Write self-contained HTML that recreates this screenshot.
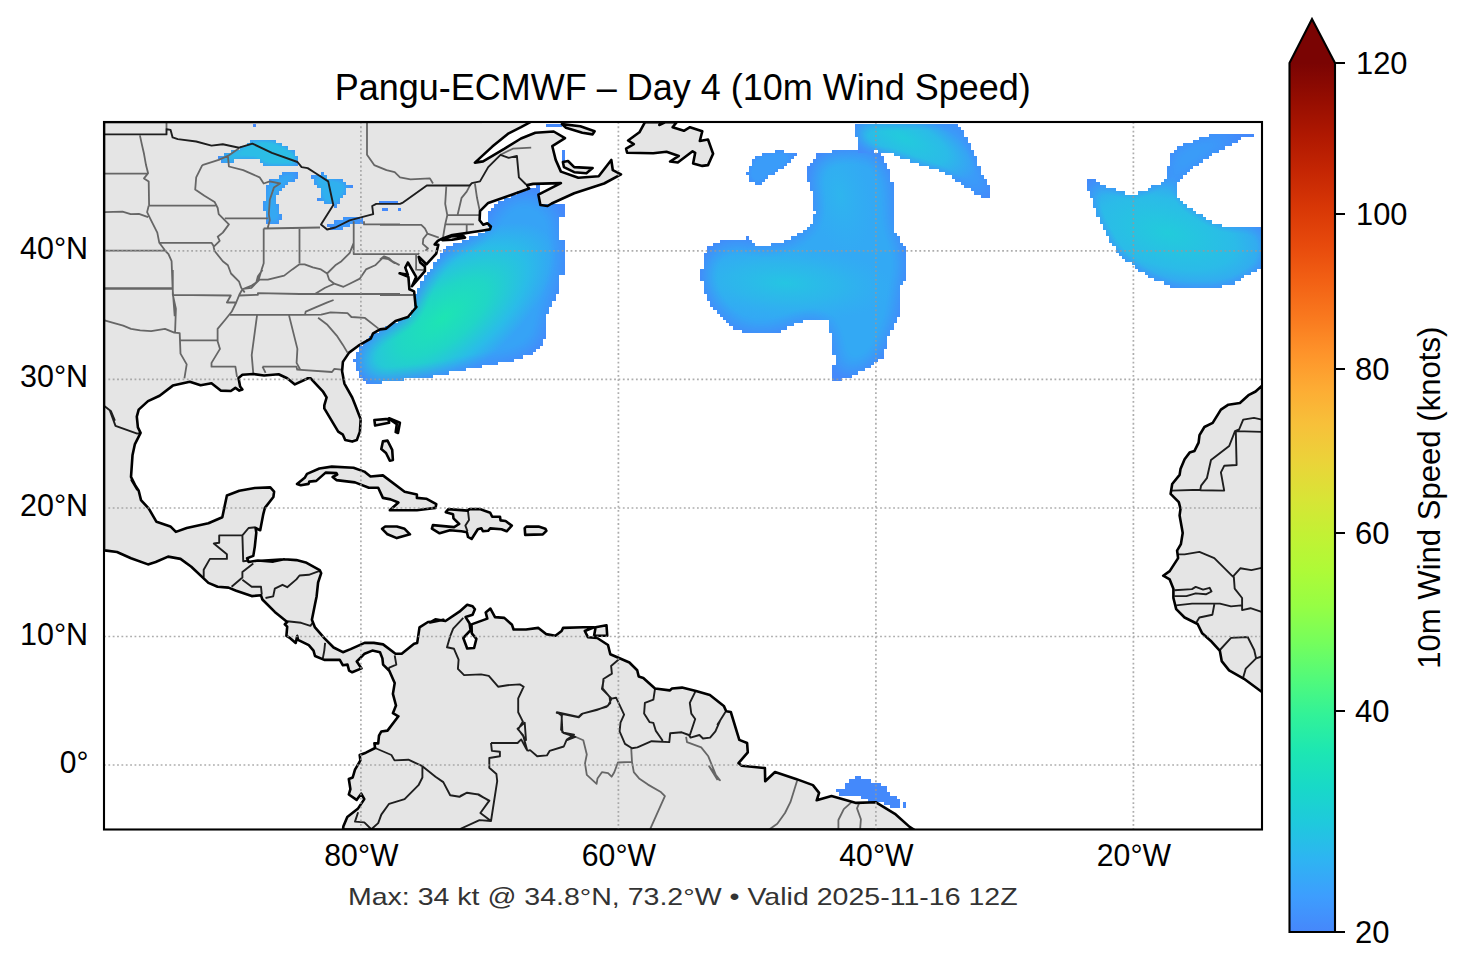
<!DOCTYPE html>
<html><head><meta charset="utf-8"><style>html,body{margin:0;padding:0;background:#fff;width:1466px;height:969px;overflow:hidden;position:relative}</style></head>
<body><svg width="1466" height="969" viewBox="0 0 1466 969" style="position:absolute;left:0;top:0"><defs><linearGradient id="cb" x1="0" y1="63" x2="0" y2="932" gradientUnits="userSpaceOnUse"><stop offset="0.0000" stop-color="#7a0403"/><stop offset="0.0417" stop-color="#950d01"/><stop offset="0.0833" stop-color="#af1801"/><stop offset="0.1250" stop-color="#c52603"/><stop offset="0.1667" stop-color="#d83706"/><stop offset="0.2083" stop-color="#e7490c"/><stop offset="0.2500" stop-color="#f26014"/><stop offset="0.2917" stop-color="#f9781e"/><stop offset="0.3333" stop-color="#fe932a"/><stop offset="0.3750" stop-color="#fdac34"/><stop offset="0.4167" stop-color="#f7c13a"/><stop offset="0.4583" stop-color="#ebd339"/><stop offset="0.5000" stop-color="#d9e436"/><stop offset="0.5417" stop-color="#c3f134"/><stop offset="0.5833" stop-color="#affa37"/><stop offset="0.6250" stop-color="#96fe44"/><stop offset="0.6667" stop-color="#75fe5c"/><stop offset="0.7083" stop-color="#52fa7a"/><stop offset="0.7500" stop-color="#32f298"/><stop offset="0.7917" stop-color="#1de7b2"/><stop offset="0.8333" stop-color="#18d9c8"/><stop offset="0.8750" stop-color="#1fc9dd"/><stop offset="0.9167" stop-color="#2eb4f2"/><stop offset="0.9583" stop-color="#3d9efe"/><stop offset="1.0000" stop-color="#4687fb"/></linearGradient><clipPath id="axclip"><rect x="104" y="122" width="1158" height="707"/></clipPath></defs><g clip-path="url(#axclip)"><path d="M104.0 122.0 L531.2 121.7 L521.0 127.2 L508.7 133.3 L492.3 146.6 L474.9 162.6 L483.1 161.4 L504.6 148.7 L521.0 138.5 L535.3 132.7 L553.7 131.5 L565.0 138.1 L552.3 146.2 L555.7 159.9 L560.9 171.6 L578.3 177.8 L598.7 176.3 L611.3 160.0 L612.8 170.2 L621.0 174.3 L604.1 183.5 L574.2 193.3 L551.7 203.5 L547.6 206.0 L540.4 205.0 L538.4 194.7 L560.9 183.1 L533.2 183.9 L527.1 185.1 L529.1 188.6 L511.8 194.7 L488.2 202.9 L480.0 211.1 L479.6 220.2 L483.2 224.8 L487.3 223.3 L490.9 226.4 L489.9 229.4 L483.2 230.5 L472.9 232.0 L462.6 233.6 L452.2 235.1 L441.9 238.7 L437.8 240.8 L434.7 244.4 L438.3 244.9 L436.2 253.7 L426.4 264.3 L418.7 256.8 L420.2 262.5 L424.9 266.6 L424.9 271.2 L412.0 286.2 L416.1 276.9 L407.9 262.5 L405.3 267.6 L407.9 274.9 L399.6 273.3 L408.4 276.9 L409.4 289.3 L414.1 291.4 L415.6 305.8 L415.6 305.7 L416.4 307.0 L407.9 317.0 L395.5 320.9 L386.2 328.6 L380.0 329.4 L373.1 333.3 L370.7 338.7 L358.4 345.7 L349.1 352.6 L342.9 361.9 L342.1 371.2 L344.4 383.6 L352.2 397.5 L355.3 405.3 L360.7 419.2 L359.9 431.6 L356.8 440.1 L352.2 441.6 L345.2 440.1 L342.9 434.7 L338.2 431.6 L324.3 408.4 L324.3 405.3 L326.6 397.5 L322.8 391.3 L310.4 378.2 L308.0 378.2 L294.9 384.4 L287.2 378.2 L278.6 374.3 L264.1 375.5 L253.3 374.0 L242.4 374.8 L238.5 377.9 L240.1 386.4 L242.4 389.5 L239.3 390.6 L235.4 387.9 L230.8 391.0 L220.7 390.6 L211.5 383.3 L200.6 385.3 L189.8 381.7 L172.8 385.6 L159.6 395.7 L148.0 401.1 L138.7 409.6 L136.8 416.6 L137.9 427.4 L140.6 432.8 L134.8 444.4 L132.5 455.3 L131.0 476.9 L137.2 489.3 L131.7 480.0 L138.7 490.8 L141.0 500.1 L148.8 508.6 L156.5 521.8 L170.4 526.4 L175.9 531.9 L186.7 528.0 L208.4 523.3 L222.3 517.2 L226.9 495.5 L239.3 490.8 L254.8 488.0 L270.3 487.4 L274.1 491.6 L273.4 497.0 L264.9 507.9 L263.3 514.1 L260.2 530.3 L255.6 528.0 L256.3 532.6 L254.8 546.6 L253.3 555.9 L247.1 558.2 L248.6 562.0 L257.9 560.5 L270.3 561.3 L284.2 559.3 L260.8 560.8 L273.2 561.6 L284.1 559.3 L296.4 560.1 L305.7 562.4 L319.7 570.1 L321.2 573.2 L318.1 582.5 L316.6 596.4 L315.0 604.2 L311.9 619.7 L315.0 627.4 L324.3 638.2 L333.6 647.5 L342.9 652.2 L350.6 649.1 L364.6 642.9 L373.8 642.9 L383.1 644.4 L395.5 653.7 L401.7 653.7 L414.1 643.7 L417.2 642.9 L419.5 627.4 L428.0 622.0 L435.8 621.2 L443.5 619.7 L430.0 622.5 L435.4 619.4 L445.5 621.0 L459.4 611.7 L467.2 604.7 L472.6 606.3 L474.9 609.3 L472.6 614.8 L465.6 617.1 L469.5 623.3 L470.6 630.2 L463.3 638.0 L467.2 648.5 L474.1 648.0 L476.4 638.8 L471.8 633.3 L471.5 624.4 L487.3 618.6 L485.7 612.4 L490.4 608.6 L495.0 617.1 L504.3 617.9 L512.0 624.8 L513.6 629.5 L526.0 629.5 L538.4 627.9 L546.1 634.1 L555.4 635.7 L561.6 631.0 L563.1 627.9 L583.3 627.2 L594.1 627.2 L584.8 631.0 L587.9 637.2 L597.2 638.0 L608.0 645.0 L610.3 654.2 L629.4 662.5 L637.2 670.2 L638.7 676.4 L643.3 678.0 L655.0 688.5 L669.7 690.4 L672.0 688.5 L682.0 687.6 L696.0 691.1 L709.9 695.0 L723.8 705.9 L726.2 711.3 L730.8 712.0 L739.3 739.9 L747.1 743.0 L747.8 752.3 L738.5 763.1 L741.7 765.8 L764.9 768.1 L765.2 781.3 L775.0 772.0 L795.9 778.9 L812.9 785.1 L819.1 792.9 L816.7 800.3 L831.5 796.0 L856.2 802.9 L875.6 802.2 L894.9 813.8 L909.6 826.9 L913.5 829.3 L914.0 829.6 L343.0 829.6 L343.4 826.2 L347.3 816.9 L358.1 808.4 L364.3 799.1 L361.2 793.7 L356.6 799.9 L348.8 794.5 L350.4 789.1 L348.8 779.0 L352.7 777.5 L355.0 769.7 L360.4 760.4 L359.7 755.0 L365.9 752.7 L375.1 748.0 L374.4 743.4 L378.2 743.4 L379.0 735.7 L381.3 731.5 L387.5 730.6 L398.4 716.3 L392.9 713.2 L396.0 705.5 L392.9 693.9 L394.7 683.1 L389.3 670.7 L383.1 664.6 L382.4 658.4 L380.0 652.2 L372.3 650.6 L364.6 653.7 L356.8 661.5 L361.5 668.4 L352.2 672.3 L349.1 670.7 L347.5 664.6 L342.9 665.3 L339.8 659.9 L324.3 659.9 L315.0 656.0 L313.5 650.6 L308.8 645.2 L298.0 639.8 L297.2 635.9 L295.7 642.9 L290.2 638.2 L286.4 635.9 L287.2 626.6 L284.8 624.3 L287.2 622.0 L274.8 611.9 L262.4 599.5 L261.0 595.3 L251.7 596.1 L236.2 590.7 L228.5 587.6 L217.6 586.8 L208.4 582.9 L191.3 566.7 L180.5 558.9 L168.1 556.6 L155.7 562.0 L148.0 564.4 L131.0 558.2 L117.0 552.0 L104.6 550.4 L104.0 550.4Z M1262.0 385.7 L1255.6 391.5 L1249.0 394.8 L1239.9 403.0 L1228.4 404.7 L1220.9 409.6 L1212.7 422.9 L1204.4 427.0 L1199.5 435.2 L1198.6 442.7 L1194.5 450.9 L1189.6 452.6 L1184.6 459.2 L1180.5 469.1 L1179.6 474.9 L1172.2 484.0 L1170.6 493.9 L1178.8 502.1 L1180.5 508.8 L1179.6 515.4 L1182.2 530.0 L1182.7 533.0 L1180.9 544.1 L1177.1 550.6 L1178.1 558.1 L1169.7 571.1 L1163.2 575.7 L1169.7 579.4 L1173.4 588.7 L1173.4 598.0 L1176.2 609.1 L1184.6 617.5 L1197.6 624.0 L1202.2 633.3 L1210.6 640.7 L1219.9 650.9 L1221.7 661.1 L1229.1 670.4 L1244.0 678.8 L1261.6 691.8 L1262.0 691.8Z M645.0 122.1 L639.4 132.3 L628.1 140.5 L633.8 144.1 L626.1 148.7 L627.1 152.8 L653.2 153.3 L666.5 151.8 L678.8 155.9 L670.1 161.5 L677.8 162.5 L692.6 151.3 L695.2 152.8 L693.1 163.5 L702.3 165.9 L708.0 165.1 L713.1 153.8 L708.0 139.5 L699.8 141.0 L702.3 131.3 L690.0 127.2 L683.9 130.8 L672.6 127.2 L676.7 122.1 L665.5 122.1 L659.3 125.0 L661.4 122.1Z M561.9 124.1 L580.3 126.2 L594.6 131.3 L592.6 134.4 L582.3 132.7 L566.0 127.8Z M562.9 162.0 L568.0 161.0 L574.2 167.1 L592.6 168.1 L586.4 173.2 L574.2 172.2 L563.9 167.1Z M441.7 239.4 L452.2 235.9 L463.6 236.1 L465.0 237.6 L452.2 239.8 L442.4 240.2Z M297.0 483.9 L304.7 477.8 L307.0 473.9 L319.4 468.5 L331.8 466.6 L353.5 467.7 L364.3 471.6 L370.5 476.5 L382.9 475.4 L404.6 491.7 L416.9 494.5 L416.9 497.9 L426.2 498.7 L436.3 504.1 L435.5 507.9 L416.9 510.3 L389.8 510.3 L398.4 502.5 L390.6 499.4 L382.9 497.9 L378.2 487.8 L368.9 487.8 L355.0 482.4 L336.4 480.1 L332.6 477.0 L337.2 474.7 L336.4 473.1 L325.6 472.6 L316.3 480.9 L309.3 481.6 L308.6 483.9 L300.8 485.2Z M382.1 528.8 L385.2 526.5 L396.8 526.5 L404.6 528.8 L410.0 534.3 L396.8 538.1 L387.5 534.3Z M374.4 420.0 L388.3 418.9 L389.1 422.8 L375.1 425.6Z M389.1 418.2 L399.9 422.8 L398.0 432.9 L395.7 432.1 L396.8 424.3 L391.4 420.5Z M382.9 441.4 L387.5 440.6 L392.2 449.9 L392.9 460.0 L389.8 460.7 L386.0 453.0 L381.3 449.1Z M445.8 512.2 L448.4 509.1 L467.5 510.6 L469.5 509.1 L479.8 509.1 L490.2 512.7 L492.2 516.8 L500.0 516.8 L500.5 520.4 L505.6 521.0 L511.8 525.6 L506.7 531.3 L501.5 529.2 L490.2 528.4 L488.1 530.8 L482.9 531.3 L481.4 528.2 L477.8 529.2 L471.6 539.0 L468.0 536.9 L466.9 532.3 L461.3 531.3 L449.9 530.2 L439.6 533.3 L431.9 528.7 L432.9 525.1 L454.0 527.1 L459.2 524.0 L453.5 518.4 L453.0 514.2Z M524.7 528.2 L526.3 526.6 L538.6 526.6 L545.3 528.7 L546.4 530.8 L542.8 534.4 L525.2 534.9Z M595.6 627.2 L606.5 625.3 L607.2 635.7 L594.1 635.7Z" fill="#e5e5e5" stroke="none"/>
<defs><filter id="fmbig" x="-5%" y="-5%" width="110%" height="110%" color-interpolation-filters="sRGB"><feGaussianBlur in="SourceAlpha" stdDeviation="14" result="b"/><feComponentTransfer in="b" result="c"><feFuncA type="linear" slope="2.0" intercept="-0.7"/></feComponentTransfer><feFlood flood-color="#4489fb" result="e"/><feComposite in="e" in2="SourceAlpha" operator="in" result="e2"/><feComposite in="SourceGraphic" in2="c" operator="in" result="t"/><feMerge><feMergeNode in="e2"/><feMergeNode in="t"/></feMerge></filter><filter id="fmmed" x="-5%" y="-5%" width="110%" height="110%" color-interpolation-filters="sRGB"><feGaussianBlur in="SourceAlpha" stdDeviation="10" result="b"/><feComponentTransfer in="b" result="c"><feFuncA type="linear" slope="1.8" intercept="-0.35"/></feComponentTransfer><feFlood flood-color="#4489fb" result="e"/><feComposite in="e" in2="SourceAlpha" operator="in" result="e2"/><feComposite in="SourceGraphic" in2="c" operator="in" result="t"/><feMerge><feMergeNode in="e2"/><feMergeNode in="t"/></feMerge></filter><filter id="fmsmall" x="-5%" y="-5%" width="110%" height="110%" color-interpolation-filters="sRGB"><feGaussianBlur in="SourceAlpha" stdDeviation="5" result="b"/><feComponentTransfer in="b" result="c"><feFuncA type="linear" slope="1.6" intercept="-0.25"/></feComponentTransfer><feFlood flood-color="#4489fb" result="e"/><feComposite in="e" in2="SourceAlpha" operator="in" result="e2"/><feComposite in="SourceGraphic" in2="c" operator="in" result="t"/><feMerge><feMergeNode in="e2"/><feMergeNode in="t"/></feMerge></filter><radialGradient id="gatl" gradientUnits="userSpaceOnUse" cx="0" cy="0" r="1" gradientTransform="translate(443 318) rotate(-38) scale(135 60)"><stop offset="0" stop-color="#1de5b3" stop-opacity="1"/><stop offset="0.4" stop-color="#20d6c6" stop-opacity="1"/><stop offset="0.75" stop-color="#2abce8" stop-opacity="1"/><stop offset="1" stop-color="#36a3f6" stop-opacity="1"/></radialGradient><radialGradient id="gmid1" gradientUnits="userSpaceOnUse" cx="0" cy="0" r="1" gradientTransform="translate(785 283) rotate(3) scale(110 38)"><stop offset="0" stop-color="#25c5e2" stop-opacity="1"/><stop offset="0.5" stop-color="#2bbbe8" stop-opacity="0.7"/><stop offset="1" stop-color="#2fb3ef" stop-opacity="0"/></radialGradient><radialGradient id="gmid2" gradientUnits="userSpaceOnUse" cx="0" cy="0" r="1" gradientTransform="translate(840 195) rotate(80) scale(60 30)"><stop offset="0" stop-color="#2db8ec" stop-opacity="0.8"/><stop offset="1" stop-color="#2fb3ef" stop-opacity="0"/></radialGradient><radialGradient id="gtop" gradientUnits="userSpaceOnUse" cx="0" cy="0" r="1" gradientTransform="translate(903 138) rotate(25) scale(80 30)"><stop offset="0" stop-color="#22cbdc" stop-opacity="1"/><stop offset="0.6" stop-color="#2bbbe8" stop-opacity="1"/><stop offset="1" stop-color="#3a9cf8" stop-opacity="1"/></radialGradient><radialGradient id="gright" gradientUnits="userSpaceOnUse" cx="0" cy="0" r="1" gradientTransform="translate(1168 233) rotate(15) scale(115 55)"><stop offset="0" stop-color="#22cbdb" stop-opacity="1"/><stop offset="0.6" stop-color="#2bbbe8" stop-opacity="1"/><stop offset="1" stop-color="#3a9cf8" stop-opacity="1"/></radialGradient></defs>
<g filter="url(#fmbig)"><path d="M536 185H540V188H536ZM527 188H540V191H527ZM517 191H540V195H517ZM511 195H540V198H511ZM504 198H540V201H504ZM498 201H540V204H498ZM494 204H565V208H494ZM491 208H565V211H491ZM488 211H565V214H488ZM488 214H565V217H488ZM488 217H559V220H488ZM488 220H559V224H488ZM488 224H559V227H488ZM491 227H559V230H491ZM485 230H559V233H485ZM478 233H559V236H478ZM469 236H559V240H469ZM462 240H565V243H462ZM453 243H565V246H453ZM446 246H565V249H446ZM443 249H565V253H443ZM440 253H565V256H440ZM440 256H565V259H440ZM437 259H565V262H437ZM433 262H565V265H433ZM433 265H565V269H433ZM430 269H565V272H430ZM427 272H565V275H427ZM424 275H559V278H424ZM424 278H559V281H424ZM420 281H559V285H420ZM420 285H559V288H420ZM417 288H559V291H417ZM417 291H559V294H417ZM414 294H556V297H414ZM414 297H556V301H414ZM414 301H552V304H414ZM414 304H552V307H414ZM414 307H549V310H414ZM411 310H549V314H411ZM411 314H546V317H411ZM404 317H546V320H404ZM398 320H546V323H398ZM391 323H546V326H391ZM385 326H546V330H385ZM379 330H546V333H379ZM372 333H546V336H372ZM369 336H546V339H369ZM366 339H543V342H366ZM363 342H543V346H363ZM359 346H540V349H359ZM359 349H536V352H359ZM356 352H533V355H356ZM356 355H523V359H356ZM353 359H514V362H353ZM356 362H498V365H356ZM356 365H482V368H356ZM356 368H466V371H356ZM359 371H449V375H359ZM359 375H433V378H359ZM363 378H404V381H363ZM366 381H382V384H366Z" fill="url(#gatl)" shape-rendering="crispEdges"/></g>
<g filter="url(#fmbig)"><path d="M832 150H874V153H832ZM816 153H881V156H816ZM816 156H884V159H816ZM813 159H884V163H813ZM810 163H887V166H810ZM807 166H887V169H807ZM807 169H890V172H807ZM807 172H890V175H807ZM807 175H890V179H807ZM807 179H890V182H807ZM810 182H894V185H810ZM810 185H894V188H810ZM810 188H894V191H810ZM813 191H894V195H813ZM813 195H894V198H813ZM813 198H894V201H813ZM813 201H894V204H813ZM813 204H894V208H813ZM813 208H894V211H813ZM816 211H894V214H816ZM813 214H894V217H813ZM813 217H894V220H813ZM813 220H894V224H813ZM810 224H894V227H810ZM807 227H894V230H807ZM803 230H894V233H803ZM797 233H897V236H797ZM746 236H749V240H746ZM791 236H900V240H791ZM720 240H752V243H720ZM784 240H900V243H784ZM713 243H755V246H713ZM771 243H903V246H771ZM707 246H906V249H707ZM707 249H906V253H707ZM704 253H906V256H704ZM704 256H906V259H704ZM704 259H906V262H704ZM704 262H906V265H704ZM704 265H906V269H704ZM700 269H906V272H700ZM700 272H906V275H700ZM700 275H906V278H700ZM700 278H906V281H700ZM704 281H903V285H704ZM704 285H900V288H704ZM704 288H900V291H704ZM704 291H900V294H704ZM707 294H900V297H707ZM707 297H900V301H707ZM710 301H900V304H710ZM710 304H900V307H710ZM713 307H900V310H713ZM717 310H900V314H717ZM720 314H900V317H720ZM723 317H897V320H723ZM726 320H803V323H726ZM829 320H897V323H829ZM729 323H794V326H729ZM829 323H894V326H829ZM733 326H787V330H733ZM829 326H894V330H829ZM742 330H781V333H742ZM829 330H890V333H829ZM832 333H890V336H832ZM832 336H887V339H832ZM832 339H887V342H832ZM832 342H887V346H832ZM832 346H887V349H832ZM832 349H884V352H832ZM832 352H884V355H832ZM836 355H884V359H836ZM836 359H878V362H836ZM836 362H874V365H836ZM832 365H871V368H832ZM832 368H865V371H832ZM832 371H858V375H832ZM832 375H852V378H832ZM832 378H842V381H832Z" fill="#33a9f4" shape-rendering="crispEdges"/><path d="M832 150H874V153H832ZM816 153H881V156H816ZM816 156H884V159H816ZM813 159H884V163H813ZM810 163H887V166H810ZM807 166H887V169H807ZM807 169H890V172H807ZM807 172H890V175H807ZM807 175H890V179H807ZM807 179H890V182H807ZM810 182H894V185H810ZM810 185H894V188H810ZM810 188H894V191H810ZM813 191H894V195H813ZM813 195H894V198H813ZM813 198H894V201H813ZM813 201H894V204H813ZM813 204H894V208H813ZM813 208H894V211H813ZM816 211H894V214H816ZM813 214H894V217H813ZM813 217H894V220H813ZM813 220H894V224H813ZM810 224H894V227H810ZM807 227H894V230H807ZM803 230H894V233H803ZM797 233H897V236H797ZM746 236H749V240H746ZM791 236H900V240H791ZM720 240H752V243H720ZM784 240H900V243H784ZM713 243H755V246H713ZM771 243H903V246H771ZM707 246H906V249H707ZM707 249H906V253H707ZM704 253H906V256H704ZM704 256H906V259H704ZM704 259H906V262H704ZM704 262H906V265H704ZM704 265H906V269H704ZM700 269H906V272H700ZM700 272H906V275H700ZM700 275H906V278H700ZM700 278H906V281H700ZM704 281H903V285H704ZM704 285H900V288H704ZM704 288H900V291H704ZM704 291H900V294H704ZM707 294H900V297H707ZM707 297H900V301H707ZM710 301H900V304H710ZM710 304H900V307H710ZM713 307H900V310H713ZM717 310H900V314H717ZM720 314H900V317H720ZM723 317H897V320H723ZM726 320H803V323H726ZM829 320H897V323H829ZM729 323H794V326H729ZM829 323H894V326H829ZM733 326H787V330H733ZM829 326H894V330H829ZM742 330H781V333H742ZM829 330H890V333H829ZM832 333H890V336H832ZM832 336H887V339H832ZM832 339H887V342H832ZM832 342H887V346H832ZM832 346H887V349H832ZM832 349H884V352H832ZM832 352H884V355H832ZM836 355H884V359H836ZM836 359H878V362H836ZM836 362H874V365H836ZM832 365H871V368H832ZM832 368H865V371H832ZM832 371H858V375H832ZM832 375H852V378H832ZM832 378H842V381H832Z" fill="url(#gmid1)" shape-rendering="crispEdges"/><path d="M832 150H874V153H832ZM816 153H881V156H816ZM816 156H884V159H816ZM813 159H884V163H813ZM810 163H887V166H810ZM807 166H887V169H807ZM807 169H890V172H807ZM807 172H890V175H807ZM807 175H890V179H807ZM807 179H890V182H807ZM810 182H894V185H810ZM810 185H894V188H810ZM810 188H894V191H810ZM813 191H894V195H813ZM813 195H894V198H813ZM813 198H894V201H813ZM813 201H894V204H813ZM813 204H894V208H813ZM813 208H894V211H813ZM816 211H894V214H816ZM813 214H894V217H813ZM813 217H894V220H813ZM813 220H894V224H813ZM810 224H894V227H810ZM807 227H894V230H807ZM803 230H894V233H803ZM797 233H897V236H797ZM746 236H749V240H746ZM791 236H900V240H791ZM720 240H752V243H720ZM784 240H900V243H784ZM713 243H755V246H713ZM771 243H903V246H771ZM707 246H906V249H707ZM707 249H906V253H707ZM704 253H906V256H704ZM704 256H906V259H704ZM704 259H906V262H704ZM704 262H906V265H704ZM704 265H906V269H704ZM700 269H906V272H700ZM700 272H906V275H700ZM700 275H906V278H700ZM700 278H906V281H700ZM704 281H903V285H704ZM704 285H900V288H704ZM704 288H900V291H704ZM704 291H900V294H704ZM707 294H900V297H707ZM707 297H900V301H707ZM710 301H900V304H710ZM710 304H900V307H710ZM713 307H900V310H713ZM717 310H900V314H717ZM720 314H900V317H720ZM723 317H897V320H723ZM726 320H803V323H726ZM829 320H897V323H829ZM729 323H794V326H729ZM829 323H894V326H829ZM733 326H787V330H733ZM829 326H894V330H829ZM742 330H781V333H742ZM829 330H890V333H829ZM832 333H890V336H832ZM832 336H887V339H832ZM832 339H887V342H832ZM832 342H887V346H832ZM832 346H887V349H832ZM832 349H884V352H832ZM832 352H884V355H832ZM836 355H884V359H836ZM836 359H878V362H836ZM836 362H874V365H836ZM832 365H871V368H832ZM832 368H865V371H832ZM832 371H858V375H832ZM832 375H852V378H832ZM832 378H842V381H832Z" fill="url(#gmid2)" shape-rendering="crispEdges"/></g>
<g filter="url(#fmsmall)"><path d="M775 150H784V153H775ZM762 153H797V156H762ZM755 156H794V159H755ZM752 159H791V163H752ZM752 163H787V166H752ZM749 166H784V169H749ZM749 169H778V172H749ZM746 172H775V175H746ZM749 175H768V179H749ZM749 179H765V182H749ZM755 182H762V185H755Z" fill="#3a9cf9" shape-rendering="crispEdges"/></g>
<g filter="url(#fmmed)"><path d="M855 124H958V127H855ZM855 127H961V130H855ZM855 130H964V134H855ZM855 134H964V137H855ZM858 137H968V140H858ZM858 140H968V143H858ZM858 143H971V146H858ZM858 146H971V150H858ZM858 150H871V153H858ZM878 150H974V153H878ZM894 153H974V156H894ZM900 156H977V159H900ZM910 159H977V163H910ZM919 163H977V166H919ZM929 166H981V169H929ZM939 169H981V172H939ZM945 172H981V175H945ZM952 175H984V179H952ZM955 179H987V182H955ZM961 182H987V185H961ZM964 185H990V188H964ZM971 188H990V191H971ZM974 191H990V195H974ZM981 195H990V198H981Z" fill="url(#gtop)" shape-rendering="crispEdges"/></g>
<g filter="url(#fmmed)"><path d="M1209 134H1254V137H1209ZM1199 137H1241V140H1199ZM1193 140H1238V143H1193ZM1183 143H1232V146H1183ZM1177 146H1225V150H1177ZM1174 150H1219V153H1174ZM1170 153H1212V156H1170ZM1170 156H1209V159H1170ZM1170 159H1203V163H1170ZM1170 163H1199V166H1170ZM1167 166H1193V169H1167ZM1167 169H1190V172H1167ZM1167 172H1187V175H1167ZM1167 175H1183V179H1167ZM1087 179H1096V182H1087ZM1164 179H1180V182H1164ZM1087 182H1100V185H1087ZM1161 182H1177V185H1161ZM1087 185H1106V188H1087ZM1151 185H1177V188H1151ZM1087 188H1116V191H1087ZM1148 188H1177V191H1148ZM1090 191H1125V195H1090ZM1138 191H1177V195H1138ZM1090 195H1177V198H1090ZM1093 198H1180V201H1093ZM1093 201H1183V204H1093ZM1093 204H1187V208H1093ZM1096 208H1193V211H1096ZM1096 211H1196V214H1096ZM1096 214H1203V217H1096ZM1100 217H1206V220H1100ZM1100 220H1212V224H1100ZM1103 224H1222V227H1103ZM1103 227H1264V230H1103ZM1106 230H1264V233H1106ZM1106 233H1264V236H1106ZM1109 236H1264V240H1109ZM1109 240H1264V243H1109ZM1112 243H1264V246H1112ZM1116 246H1264V249H1116ZM1116 249H1264V253H1116ZM1119 253H1264V256H1119ZM1122 256H1264V259H1122ZM1125 259H1264V262H1125ZM1132 262H1264V265H1132ZM1135 265H1261V269H1135ZM1138 269H1257V272H1138ZM1145 272H1251V275H1145ZM1148 275H1244V278H1148ZM1154 278H1241V281H1154ZM1164 281H1235V285H1164ZM1170 285H1222V288H1170Z" fill="url(#gright)" shape-rendering="crispEdges"/></g>
<g filter="url(#fmsmall)"><path d="M250 140H276V143H250ZM247 143H282V146H247ZM240 146H288V150H240ZM231 150H295V153H231ZM224 153H295V156H224ZM218 156H298V159H218ZM221 159H234V163H221ZM260 159H298V163H260ZM263 163H298V166H263Z" fill="#2cbde6" shape-rendering="crispEdges"/></g>
<g filter="url(#fmsmall)"><path d="M282 172H298V175H282ZM279 175H298V179H279ZM269 179H295V182H269ZM269 182H288V185H269ZM266 185H285V188H266ZM266 188H282V191H266ZM266 191H279V195H266ZM266 195H276V198H266ZM266 198H276V201H266ZM263 201H276V204H263ZM263 204H279V208H263ZM263 208H279V211H263ZM266 211H279V214H266ZM266 214H282V217H266ZM266 217H282V220H266ZM266 220H279V224H266Z" fill="#35a8f2" shape-rendering="crispEdges"/></g>
<g filter="url(#fmsmall)"><path d="M321 172H324V175H321ZM311 175H327V179H311ZM314 179H343V182H314ZM314 182H346V185H314ZM317 185H353V188H317ZM321 188H346V191H321ZM321 191H346V195H321ZM321 195H343V198H321ZM317 198H340V201H317ZM324 201H340V204H324ZM334 204H337V208H334Z" fill="#30b0ee" shape-rendering="crispEdges"/></g>
<g filter="url(#fmsmall)"><path d="M343 217H363V220H343ZM334 220H363V224H334ZM327 224H350V227H327ZM330 227H343V230H330Z" fill="#3a9ef8" shape-rendering="crispEdges"/></g>
<path d="M379 201H398V204H379ZM382 208H388V211H382ZM398 208H401V211H398Z" fill="#4489fb" shape-rendering="crispEdges"/>
<path d="M253 124H256V127H253Z" fill="#4489fb" shape-rendering="crispEdges"/>
<path d="M546 124H562V127H546Z" fill="#4489fb" shape-rendering="crispEdges"/>
<path d="M562 150H565V153H562ZM562 153H565V156H562ZM562 156H565V159H562ZM562 159H565V163H562Z" fill="#4489fb" shape-rendering="crispEdges"/>
<path d="M855 776H861V779H855ZM849 779H871V783H849ZM845 783H881V786H845ZM845 786H887V789H845ZM836 789H887V792H836ZM839 792H890V796H839ZM861 796H897V799H861ZM868 799H900V802H868ZM884 802H900V805H884ZM890 805H900V808H890Z" fill="#4489fb" shape-rendering="crispEdges"/>
<path d="M903 802H906V805H903ZM903 805H906V808H903Z" fill="#4489fb" shape-rendering="crispEdges"/>
<path d="M166.5 122.0 L166.5 129.3 M139.9 135.4 L141.9 144.6 L144.0 153.8 L146.0 165.1 L148.1 173.2 L144.0 178.4 L148.7 181.4 L149.1 205.6 M104.5 173.7 L147.5 173.7 M104.5 212.1 L122.5 211.7 L130.7 214.2 L138.9 213.8 L148.1 217.2 M148.7 205.6 L147.1 212.1 L150.1 218.3 L157.3 232.6 L159.3 242.8 L165.5 251.0 L168.5 254.1 L171.6 261.2 L172.6 288.2 L174.7 316.1 M104.5 250.6 L165.5 250.6 M104.5 288.2 L172.6 288.2 M149.1 205.6 L215.6 205.6 M159.3 242.8 L211.5 242.8 L213.6 245.9 M202.3 165.1 L196.2 177.3 L195.2 189.6 L204.4 195.8 L214.6 201.9 L217.7 208.0 L218.7 214.2 L228.9 224.4 L222.8 232.6 L217.7 236.7 L219.7 240.8 L213.6 246.9 L214.6 251.0 L222.8 261.2 L227.9 265.3 L231.0 273.5 L239.1 281.7 L241.2 287.8 L244.3 291.9 L242.4 289.3 L239.3 294.8 L236.2 302.5 L231.6 311.8 L225.4 319.5 L217.6 328.8 L217.6 341.2 L220.0 348.9 L211.5 362.9 L211.5 366.7 L235.4 366.7 L237.0 376.8 M202.3 165.1 L218.7 159.9 L227.9 155.9 L239.1 148.3 M227.9 155.9 L228.9 166.5 L243.2 170.2 L259.6 177.3 L263.7 183.5 L269.8 181.4 L280.1 183.5 L273.9 187.6 L269.8 199.8 L268.8 214.2 L269.8 220.3 L267.8 227.5 M224.8 218.3 L267.8 218.3 M263.7 228.5 L263.7 263.3 L261.7 269.4 L258.6 279.7 M263.7 228.5 L320.0 227.5 M299.5 228.5 L299.5 263.3 M243.2 288.9 L251.4 287.8 L255.5 283.7 L259.6 279.7 L267.8 279.7 L276.0 277.6 L284.2 275.6 L292.3 269.4 L299.5 264.3 L304.6 264.3 L312.8 267.4 L321.0 269.4 L327.1 273.5 L335.3 265.3 L341.5 261.2 L349.6 253.1 L353.7 242.8 M353.7 221.3 L353.7 254.1 L400.0 254.1 M327.1 273.5 L329.2 279.7 L334.3 283.7 L343.5 286.8 L351.7 282.7 L359.9 278.6 L366.0 269.4 L375.2 265.3 L382.4 258.2 L388.5 259.2 L394.7 263.3 M314.9 294.0 L325.1 287.8 L334.3 283.7 M239.3 295.5 L257.9 294.8 L257.9 293.2 L300.0 294.0 L400.0 294.0 M364.0 221.3 L364.0 224.4 L400.0 224.4 M367.0 123.1 L367.0 154.8 L374.2 165.1 L386.5 170.2 L394.7 172.2 L400.0 177.3 L410.5 179.4 L429.9 178.4 L433.0 183.5 M104.6 288.9 L172.8 288.9 M172.8 270.0 L172.8 294.8 L175.9 308.7 L175.1 331.9 M172.8 294.8 L230.8 295.5 L226.9 302.5 L236.2 302.5 M104.6 320.3 L112.4 322.6 L123.2 325.7 L131.0 328.8 L140.2 330.4 L151.1 331.1 L165.0 328.8 L174.3 332.7 L179.7 333.2 L180.5 353.6 L186.7 364.4 L184.4 378.4 M180.5 340.4 L216.9 340.4 M230.0 314.9 L300.0 314.9 L321.2 314.7 L330.5 312.4 L347.5 313.2 L351.4 317.0 L364.6 317.8 L378.5 328.6 M257.1 314.9 L251.7 355.1 L253.3 373.7 M288.9 314.9 L297.4 348.9 L296.6 362.9 L300.0 369.1 L297.2 369.7 M262.5 366.7 L295.8 366.7 L296.4 366.6 L297.2 369.7 L332.0 372.0 L334.4 368.9 L341.3 369.7 M262.5 366.7 L265.6 372.9 M242.4 289.3 L251.7 285.5 L256.3 282.4 L257.9 276.2 L262.5 270.0 M318.1 317.8 L327.4 324.8 L336.7 335.6 L342.9 344.9 L347.5 352.6 M305.0 314.7 L305.7 311.6 L315.0 307.7 L327.4 302.3 L333.6 300.0 M446.3 186.5 L445.2 203.9 L447.3 215.2 L445.2 224.4 L442.8 238.7 M470.8 183.9 L466.7 191.7 L461.6 197.8 L457.5 215.2 M474.9 183.5 L477.0 197.8 L480.0 212.1 M446.3 215.2 L480.0 215.2 M445.2 224.4 L473.9 224.4 M466.7 224.4 L466.7 233.6 M500.5 154.8 L512.8 148.7 L531.2 147.7 M380.0 224.8 L421.3 224.8 L424.9 228.4 L427.5 233.6 L438.8 237.7 M427.5 233.6 L423.3 238.7 L422.8 243.9 L428.0 248.5 L425.4 250.6 M380.0 254.2 L418.2 254.2 L419.2 253.2 M416.1 254.2 L416.1 269.7 L424.4 270.2 M380.0 259.4 L384.1 256.3 L389.3 258.3 L392.4 261.4 L399.6 265.1 M380.0 295.0 L413.0 295.0 M575.3 736.8 L583.3 740.3 L586.8 754.5 L585.0 763.4 L586.8 774.9 L596.6 783.8 L597.5 778.4 L601.9 772.2 L608.1 773.1 L611.6 776.7 L614.3 772.2 L617.9 762.5 L632.0 761.9 L631.2 748.3 M632.0 761.9 L633.8 772.2 L639.1 778.4 L648.0 784.6 L660.4 791.7 L664.9 796.2 L649.8 829.9 M686.1 736.8 L687.0 742.1 L701.2 747.4 L708.3 756.3 L717.2 778.4 L720.0 780.2 L709.1 766.2 L717.6 780.0 M797.4 779.7 L794.3 789.8 L790.4 802.2 L785.0 813.0 L777.3 823.8 L768.8 829.7 M851.6 802.2 L843.8 809.1 L838.4 820.0 L838.4 829.7 M859.3 802.9 L857.0 808.4 L860.9 819.2 L860.1 829.7" fill="none" stroke="#666666" stroke-width="1.8" stroke-linejoin="round"/>
<path d="M104.5 134.4 L166.5 134.4 L166.5 129.3 L170.6 129.9 L172.6 137.4 L177.8 139.1 L196.2 141.5 L211.5 145.6 L222.8 144.2 L239.1 147.7 L252.4 143.6 L271.9 152.8 L297.5 162.0 L301.6 167.1 L307.7 168.1 L314.9 172.8 L328.2 181.4 L333.3 205.0 L321.0 224.4 L327.1 229.5 L335.3 227.5 L349.6 220.3 L373.2 214.2 L372.2 206.0 L376.2 203.9 L400.0 203.9 L402.3 202.9 L426.8 185.5 L469.8 185.5 L471.8 183.1 L480.0 181.4 L488.2 167.1 L500.5 154.8 L508.7 157.9 L516.9 155.9 L518.9 177.3 L526.1 184.5 M104.6 406.2 L110.8 410.9 L114.7 420.0 L110.1 411.1 L115.5 425.9 L137.2 433.6 L140.6 432.8 M203.7 577.5 L203.7 569.8 L209.9 558.9 L226.9 558.9 L226.9 554.3 L213.8 543.5 L219.2 542.7 L219.2 535.4 L242.4 535.4 L243.2 561.3 L247.8 560.8 M242.4 535.4 L248.6 528.0 L255.6 527.2 M253.3 563.6 L242.4 572.1 L242.4 577.5 L231.6 586.8 M242.4 579.8 L251.7 586.8 L261.0 586.8 L261.8 594.6 M319.7 570.9 L308.8 574.8 L299.5 575.5 L296.4 579.4 L287.2 587.2 L282.5 584.8 L274.8 588.7 L273.2 596.4 L265.5 598.0 M287.2 621.2 L301.1 622.8 L310.4 625.9 L312.7 622.8 M325.1 642.9 L324.3 650.6 L322.8 658.4 M394.7 655.3 L396.3 664.6 L389.3 667.6 L388.5 670.7 M468.0 511.1 L469.0 519.9 L465.4 525.6 L467.5 531.3 M463.3 617.9 L453.2 628.7 L450.1 636.4 L447.0 647.3 L454.0 648.8 L458.6 659.7 L457.9 668.9 L464.1 675.1 L481.1 674.4 L488.8 675.9 L498.1 686.7 L507.4 685.2 L519.8 684.4 L523.7 686.7 L518.2 698.4 L518.2 712.3 L522.9 721.6 L518.2 729.3 L526.0 740.0 L524.7 722.6 L517.6 728.8 L523.0 735.0 L527.4 750.9 M527.4 750.9 L530.1 750.1 L537.2 756.3 L546.9 755.4 L549.6 750.9 L563.8 746.5 L566.4 740.3 L575.3 736.8 L563.8 733.2 L561.1 729.7 L562.0 713.7 L556.7 712.8 L578.8 717.2 L582.4 713.7 L596.6 710.2 L608.1 705.7 L611.6 698.6 L616.1 697.7 L618.7 703.1 L624.1 714.6 L620.5 722.6 L619.6 731.4 L625.0 743.9 L632.0 748.3 L637.4 747.4 L651.6 741.2 L669.3 742.1 L670.2 733.2 L681.7 732.3 L688.8 735.0 L690.6 737.6 L699.4 735.0 L703.0 738.5 L710.1 737.6 L715.4 731.4 L720.0 720.8 L717.6 724.4 L725.4 712.0 M620.4 658.1 L611.1 665.9 L611.9 673.6 L603.4 679.0 L602.6 688.3 L609.6 696.8 L610.3 703.0 L606.5 706.9 L581.7 713.8 L578.6 716.9 L556.9 712.3 L561.6 715.4 L562.4 732.4 L574.0 734.7 L566.2 740.0 M611.6 698.6 L601.9 688.9 L603.7 680.0 M655.0 688.8 L653.4 699.7 L644.9 702.8 L644.1 713.6 L649.5 722.1 L653.4 722.9 L655.7 730.6 L662.7 740.7 M695.2 691.9 L689.8 702.8 L691.3 713.6 L695.2 719.0 L689.8 735.3 M375.1 748.0 L391.4 755.0 L394.5 760.4 L408.4 759.7 L422.4 766.2 L435.5 776.7 L443.3 782.1 L450.2 795.3 L459.5 796.8 L466.5 792.9 L478.9 794.5 L490.0 801.5 M422.4 766.2 L422.4 777.5 L418.5 785.2 L404.6 799.1 L389.1 803.8 L381.3 814.6 L378.2 823.1 L371.3 829.3 M358.1 812.3 L355.0 821.6 L364.3 822.4 L371.3 829.3 M491.0 743.0 L517.6 743.0 L521.2 739.4 L526.5 749.2 M491.0 743.0 L491.9 750.9 L499.9 751.8 L499.9 756.3 L489.3 758.0 L489.3 767.8 L496.4 774.0 L497.2 781.1 L491.0 821.0 L479.5 820.1 L460.0 829.0 M460.0 796.2 L467.1 792.6 L477.7 794.4 L489.3 800.6 L480.4 813.0 L491.0 821.0 M1261.9 419.6 L1254.0 417.9 L1243.2 419.6 L1239.1 429.5 L1235.0 431.1 L1229.2 446.0 L1211.0 460.0 L1206.9 478.2 L1201.1 485.6 L1200.3 489.8 L1171.4 490.6 M1200.3 490.3 L1224.2 490.6 L1220.9 472.4 L1224.2 465.8 L1236.6 465.0 L1235.8 431.1 L1261.9 431.9 M1178.1 554.4 L1184.6 554.4 L1199.4 551.9 L1214.3 558.1 L1232.9 576.6 L1240.3 568.3 L1251.4 570.1 L1261.6 567.9 M1233.8 576.6 L1234.7 588.7 L1242.1 598.0 L1242.1 610.1 L1250.5 608.2 L1261.6 611.9 M1174.4 590.2 L1192.0 589.1 L1195.7 586.9 L1203.1 589.6 L1209.6 587.8 L1211.5 591.5 L1205.9 594.3 L1195.7 593.4 L1186.4 596.1 L1174.4 596.1 M1176.2 605.4 L1192.0 603.6 L1219.9 603.6 L1231.0 606.4 L1241.2 605.4 M1214.3 604.5 L1212.4 614.7 L1199.4 617.5 L1196.6 622.1 M1219.9 650.0 L1231.0 637.9 L1247.7 637.0 L1254.2 650.0 L1256.1 658.3 L1261.6 656.5 M1256.1 658.3 L1245.8 668.6 L1243.1 677.8" fill="none" stroke="#1e1e1e" stroke-width="1.9" stroke-linejoin="round"/>
<path d="M104.0 122.0 L531.2 121.7 L521.0 127.2 L508.7 133.3 L492.3 146.6 L474.9 162.6 L483.1 161.4 L504.6 148.7 L521.0 138.5 L535.3 132.7 L553.7 131.5 L565.0 138.1 L552.3 146.2 L555.7 159.9 L560.9 171.6 L578.3 177.8 L598.7 176.3 L611.3 160.0 L612.8 170.2 L621.0 174.3 L604.1 183.5 L574.2 193.3 L551.7 203.5 L547.6 206.0 L540.4 205.0 L538.4 194.7 L560.9 183.1 L533.2 183.9 L527.1 185.1 L529.1 188.6 L511.8 194.7 L488.2 202.9 L480.0 211.1 L479.6 220.2 L483.2 224.8 L487.3 223.3 L490.9 226.4 L489.9 229.4 L483.2 230.5 L472.9 232.0 L462.6 233.6 L452.2 235.1 L441.9 238.7 L437.8 240.8 L434.7 244.4 L438.3 244.9 L436.2 253.7 L426.4 264.3 L418.7 256.8 L420.2 262.5 L424.9 266.6 L424.9 271.2 L412.0 286.2 L416.1 276.9 L407.9 262.5 L405.3 267.6 L407.9 274.9 L399.6 273.3 L408.4 276.9 L409.4 289.3 L414.1 291.4 L415.6 305.8 L415.6 305.7 L416.4 307.0 L407.9 317.0 L395.5 320.9 L386.2 328.6 L380.0 329.4 L373.1 333.3 L370.7 338.7 L358.4 345.7 L349.1 352.6 L342.9 361.9 L342.1 371.2 L344.4 383.6 L352.2 397.5 L355.3 405.3 L360.7 419.2 L359.9 431.6 L356.8 440.1 L352.2 441.6 L345.2 440.1 L342.9 434.7 L338.2 431.6 L324.3 408.4 L324.3 405.3 L326.6 397.5 L322.8 391.3 L310.4 378.2 L308.0 378.2 L294.9 384.4 L287.2 378.2 L278.6 374.3 L264.1 375.5 L253.3 374.0 L242.4 374.8 L238.5 377.9 L240.1 386.4 L242.4 389.5 L239.3 390.6 L235.4 387.9 L230.8 391.0 L220.7 390.6 L211.5 383.3 L200.6 385.3 L189.8 381.7 L172.8 385.6 L159.6 395.7 L148.0 401.1 L138.7 409.6 L136.8 416.6 L137.9 427.4 L140.6 432.8 L134.8 444.4 L132.5 455.3 L131.0 476.9 L137.2 489.3 L131.7 480.0 L138.7 490.8 L141.0 500.1 L148.8 508.6 L156.5 521.8 L170.4 526.4 L175.9 531.9 L186.7 528.0 L208.4 523.3 L222.3 517.2 L226.9 495.5 L239.3 490.8 L254.8 488.0 L270.3 487.4 L274.1 491.6 L273.4 497.0 L264.9 507.9 L263.3 514.1 L260.2 530.3 L255.6 528.0 L256.3 532.6 L254.8 546.6 L253.3 555.9 L247.1 558.2 L248.6 562.0 L257.9 560.5 L270.3 561.3 L284.2 559.3 L260.8 560.8 L273.2 561.6 L284.1 559.3 L296.4 560.1 L305.7 562.4 L319.7 570.1 L321.2 573.2 L318.1 582.5 L316.6 596.4 L315.0 604.2 L311.9 619.7 L315.0 627.4 L324.3 638.2 L333.6 647.5 L342.9 652.2 L350.6 649.1 L364.6 642.9 L373.8 642.9 L383.1 644.4 L395.5 653.7 L401.7 653.7 L414.1 643.7 L417.2 642.9 L419.5 627.4 L428.0 622.0 L435.8 621.2 L443.5 619.7 L430.0 622.5 L435.4 619.4 L445.5 621.0 L459.4 611.7 L467.2 604.7 L472.6 606.3 L474.9 609.3 L472.6 614.8 L465.6 617.1 L469.5 623.3 L470.6 630.2 L463.3 638.0 L467.2 648.5 L474.1 648.0 L476.4 638.8 L471.8 633.3 L471.5 624.4 L487.3 618.6 L485.7 612.4 L490.4 608.6 L495.0 617.1 L504.3 617.9 L512.0 624.8 L513.6 629.5 L526.0 629.5 L538.4 627.9 L546.1 634.1 L555.4 635.7 L561.6 631.0 L563.1 627.9 L583.3 627.2 L594.1 627.2 L584.8 631.0 L587.9 637.2 L597.2 638.0 L608.0 645.0 L610.3 654.2 L629.4 662.5 L637.2 670.2 L638.7 676.4 L643.3 678.0 L655.0 688.5 L669.7 690.4 L672.0 688.5 L682.0 687.6 L696.0 691.1 L709.9 695.0 L723.8 705.9 L726.2 711.3 L730.8 712.0 L739.3 739.9 L747.1 743.0 L747.8 752.3 L738.5 763.1 L741.7 765.8 L764.9 768.1 L765.2 781.3 L775.0 772.0 L795.9 778.9 L812.9 785.1 L819.1 792.9 L816.7 800.3 L831.5 796.0 L856.2 802.9 L875.6 802.2 L894.9 813.8 L909.6 826.9 L913.5 829.3 L914.0 829.6 L343.0 829.6 L343.4 826.2 L347.3 816.9 L358.1 808.4 L364.3 799.1 L361.2 793.7 L356.6 799.9 L348.8 794.5 L350.4 789.1 L348.8 779.0 L352.7 777.5 L355.0 769.7 L360.4 760.4 L359.7 755.0 L365.9 752.7 L375.1 748.0 L374.4 743.4 L378.2 743.4 L379.0 735.7 L381.3 731.5 L387.5 730.6 L398.4 716.3 L392.9 713.2 L396.0 705.5 L392.9 693.9 L394.7 683.1 L389.3 670.7 L383.1 664.6 L382.4 658.4 L380.0 652.2 L372.3 650.6 L364.6 653.7 L356.8 661.5 L361.5 668.4 L352.2 672.3 L349.1 670.7 L347.5 664.6 L342.9 665.3 L339.8 659.9 L324.3 659.9 L315.0 656.0 L313.5 650.6 L308.8 645.2 L298.0 639.8 L297.2 635.9 L295.7 642.9 L290.2 638.2 L286.4 635.9 L287.2 626.6 L284.8 624.3 L287.2 622.0 L274.8 611.9 L262.4 599.5 L261.0 595.3 L251.7 596.1 L236.2 590.7 L228.5 587.6 L217.6 586.8 L208.4 582.9 L191.3 566.7 L180.5 558.9 L168.1 556.6 L155.7 562.0 L148.0 564.4 L131.0 558.2 L117.0 552.0 L104.6 550.4 L104.0 550.4Z M1262.0 385.7 L1255.6 391.5 L1249.0 394.8 L1239.9 403.0 L1228.4 404.7 L1220.9 409.6 L1212.7 422.9 L1204.4 427.0 L1199.5 435.2 L1198.6 442.7 L1194.5 450.9 L1189.6 452.6 L1184.6 459.2 L1180.5 469.1 L1179.6 474.9 L1172.2 484.0 L1170.6 493.9 L1178.8 502.1 L1180.5 508.8 L1179.6 515.4 L1182.2 530.0 L1182.7 533.0 L1180.9 544.1 L1177.1 550.6 L1178.1 558.1 L1169.7 571.1 L1163.2 575.7 L1169.7 579.4 L1173.4 588.7 L1173.4 598.0 L1176.2 609.1 L1184.6 617.5 L1197.6 624.0 L1202.2 633.3 L1210.6 640.7 L1219.9 650.9 L1221.7 661.1 L1229.1 670.4 L1244.0 678.8 L1261.6 691.8 L1262.0 691.8Z M645.0 122.1 L639.4 132.3 L628.1 140.5 L633.8 144.1 L626.1 148.7 L627.1 152.8 L653.2 153.3 L666.5 151.8 L678.8 155.9 L670.1 161.5 L677.8 162.5 L692.6 151.3 L695.2 152.8 L693.1 163.5 L702.3 165.9 L708.0 165.1 L713.1 153.8 L708.0 139.5 L699.8 141.0 L702.3 131.3 L690.0 127.2 L683.9 130.8 L672.6 127.2 L676.7 122.1 L665.5 122.1 L659.3 125.0 L661.4 122.1Z M561.9 124.1 L580.3 126.2 L594.6 131.3 L592.6 134.4 L582.3 132.7 L566.0 127.8Z M562.9 162.0 L568.0 161.0 L574.2 167.1 L592.6 168.1 L586.4 173.2 L574.2 172.2 L563.9 167.1Z M441.7 239.4 L452.2 235.9 L463.6 236.1 L465.0 237.6 L452.2 239.8 L442.4 240.2Z M297.0 483.9 L304.7 477.8 L307.0 473.9 L319.4 468.5 L331.8 466.6 L353.5 467.7 L364.3 471.6 L370.5 476.5 L382.9 475.4 L404.6 491.7 L416.9 494.5 L416.9 497.9 L426.2 498.7 L436.3 504.1 L435.5 507.9 L416.9 510.3 L389.8 510.3 L398.4 502.5 L390.6 499.4 L382.9 497.9 L378.2 487.8 L368.9 487.8 L355.0 482.4 L336.4 480.1 L332.6 477.0 L337.2 474.7 L336.4 473.1 L325.6 472.6 L316.3 480.9 L309.3 481.6 L308.6 483.9 L300.8 485.2Z M382.1 528.8 L385.2 526.5 L396.8 526.5 L404.6 528.8 L410.0 534.3 L396.8 538.1 L387.5 534.3Z M374.4 420.0 L388.3 418.9 L389.1 422.8 L375.1 425.6Z M389.1 418.2 L399.9 422.8 L398.0 432.9 L395.7 432.1 L396.8 424.3 L391.4 420.5Z M382.9 441.4 L387.5 440.6 L392.2 449.9 L392.9 460.0 L389.8 460.7 L386.0 453.0 L381.3 449.1Z M445.8 512.2 L448.4 509.1 L467.5 510.6 L469.5 509.1 L479.8 509.1 L490.2 512.7 L492.2 516.8 L500.0 516.8 L500.5 520.4 L505.6 521.0 L511.8 525.6 L506.7 531.3 L501.5 529.2 L490.2 528.4 L488.1 530.8 L482.9 531.3 L481.4 528.2 L477.8 529.2 L471.6 539.0 L468.0 536.9 L466.9 532.3 L461.3 531.3 L449.9 530.2 L439.6 533.3 L431.9 528.7 L432.9 525.1 L454.0 527.1 L459.2 524.0 L453.5 518.4 L453.0 514.2Z M524.7 528.2 L526.3 526.6 L538.6 526.6 L545.3 528.7 L546.4 530.8 L542.8 534.4 L525.2 534.9Z M595.6 627.2 L606.5 625.3 L607.2 635.7 L594.1 635.7Z" fill="none" stroke="#000" stroke-width="2.6" stroke-linejoin="round"/><path d="M360.9 122V829 M618.4 122V829 M875.9 122V829 M1133.4 122V829 M104 250.9H1262 M104 379.4H1262 M104 508.0H1262 M104 636.5H1262 M104 765.0H1262" stroke="#999999" stroke-width="1.7" stroke-dasharray="1.8 2.56" fill="none" opacity="0.8"/></g><rect x="104" y="122" width="1158" height="707.5" fill="none" stroke="#000" stroke-width="2.1"/><text x="334.8" y="99.9" font-family='"Liberation Sans", sans-serif' font-size="36.46" text-anchor="start" fill="#000" textLength="696.0" lengthAdjust="spacingAndGlyphs" >Pangu-ECMWF – Day 4 (10m Wind Speed)</text><text x="20.0" y="258.9" font-family='"Liberation Sans", sans-serif' font-size="30.6" text-anchor="start" fill="#000" textLength="68.1" lengthAdjust="spacingAndGlyphs" >40°N</text><text x="20.0" y="387.4" font-family='"Liberation Sans", sans-serif' font-size="30.6" text-anchor="start" fill="#000" textLength="68.1" lengthAdjust="spacingAndGlyphs" >30°N</text><text x="20.0" y="516.0" font-family='"Liberation Sans", sans-serif' font-size="30.6" text-anchor="start" fill="#000" textLength="68.1" lengthAdjust="spacingAndGlyphs" >20°N</text><text x="20.0" y="644.5" font-family='"Liberation Sans", sans-serif' font-size="30.6" text-anchor="start" fill="#000" textLength="68.1" lengthAdjust="spacingAndGlyphs" >10°N</text><text x="59.8" y="773.1" font-family='"Liberation Sans", sans-serif' font-size="30.6" text-anchor="start" fill="#000" textLength="28.7" lengthAdjust="spacingAndGlyphs" >0°</text><text x="324.3" y="865.8" font-family='"Liberation Sans", sans-serif' font-size="30.6" text-anchor="start" fill="#000" textLength="74.2" lengthAdjust="spacingAndGlyphs" >80°W</text><text x="581.8" y="865.8" font-family='"Liberation Sans", sans-serif' font-size="30.6" text-anchor="start" fill="#000" textLength="74.2" lengthAdjust="spacingAndGlyphs" >60°W</text><text x="839.3" y="865.8" font-family='"Liberation Sans", sans-serif' font-size="30.6" text-anchor="start" fill="#000" textLength="74.2" lengthAdjust="spacingAndGlyphs" >40°W</text><text x="1096.8" y="865.8" font-family='"Liberation Sans", sans-serif' font-size="30.6" text-anchor="start" fill="#000" textLength="74.2" lengthAdjust="spacingAndGlyphs" >20°W</text><text x="347.9" y="904.9" font-family='"Liberation Sans", sans-serif' font-size="24.6" text-anchor="start" fill="#333333" textLength="669.7" lengthAdjust="spacingAndGlyphs" >Max: 34 kt @ 34.8°N, 73.2°W • Valid 2025-11-16 12Z</text><path d="M1289.5 932V63L1312 19L1335 63V932Z" fill="url(#cb)" stroke="none"/><path d="M1289.5 63L1312 19L1335 63Z" fill="#7a0403"/><path d="M1289.5 932V63L1312 19L1335 63V932Z" fill="none" stroke="#000" stroke-width="2.1" stroke-linejoin="miter"/><path d="M1335 932H1345" stroke="#000" stroke-width="2"/><text x="1355.0" y="942.9" font-family='"Liberation Sans", sans-serif' font-size="30.6" text-anchor="start" fill="#000" textLength="34.5" lengthAdjust="spacingAndGlyphs" >20</text><path d="M1335 711H1345" stroke="#000" stroke-width="2"/><text x="1355.0" y="721.9" font-family='"Liberation Sans", sans-serif' font-size="30.6" text-anchor="start" fill="#000" textLength="34.5" lengthAdjust="spacingAndGlyphs" >40</text><path d="M1335 533H1345" stroke="#000" stroke-width="2"/><text x="1355.0" y="543.9" font-family='"Liberation Sans", sans-serif' font-size="30.6" text-anchor="start" fill="#000" textLength="34.5" lengthAdjust="spacingAndGlyphs" >60</text><path d="M1335 369H1345" stroke="#000" stroke-width="2"/><text x="1355.0" y="379.9" font-family='"Liberation Sans", sans-serif' font-size="30.6" text-anchor="start" fill="#000" textLength="34.5" lengthAdjust="spacingAndGlyphs" >80</text><path d="M1335 214H1345" stroke="#000" stroke-width="2"/><text x="1356.0" y="224.8" font-family='"Liberation Sans", sans-serif' font-size="30.6" text-anchor="start" fill="#000" textLength="51.5" lengthAdjust="spacingAndGlyphs" >100</text><path d="M1335 63H1345" stroke="#000" stroke-width="2"/><text x="1356.0" y="73.8" font-family='"Liberation Sans", sans-serif' font-size="30.6" text-anchor="start" fill="#000" textLength="51.5" lengthAdjust="spacingAndGlyphs" >120</text><text x="0" y="0" font-family='"Liberation Sans", sans-serif' font-size="30.5" text-anchor="start" fill="#000" textLength="342.1" lengthAdjust="spacingAndGlyphs" transform="translate(1440 668.8) rotate(-90)">10m Wind Speed (knots)</text></svg></body></html>
